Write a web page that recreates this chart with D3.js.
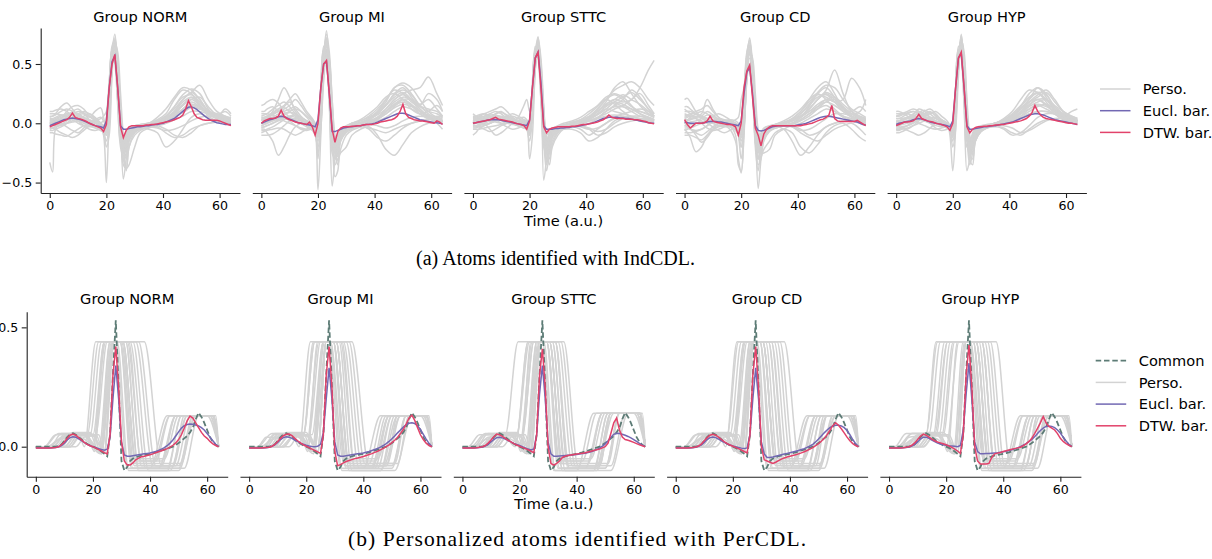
<!DOCTYPE html>
<html><head><meta charset="utf-8">
<script src="https://cdn.jsdelivr.net/npm/d3@7"></script>
<style>
body{margin:0;background:#fff}
svg text{fill:#000}
</style>
</head><body>
<svg id="chart" width="1212" height="559"></svg>
<script>
// ---------------- DATA ----------------
const groups = ["NORM","MI","STTC","CD","HYP"];
const time = Array.from({length:65},(_,i)=>i);
const xTicks = [0,20,40,60];
const yTicksTop = [-0.5,0.0,0.5];
const yTickLabelsTop = ["\u22120.5","0.0","0.5"];
const yTicksBot = [0.0,0.5];
const yTickLabelsBot = ["0.0","0.5"];
const xLabel = "Time (a.u.)";
const legendTop = ["Perso.","Eucl. bar.","DTW. bar."];
const legendBot = ["Common","Perso.","Eucl. bar.","DTW. bar."];
const captionA = "(a) Atoms identified with IndCDL.";
const captionB = "(b) Personalized atoms identified with PerCDL.";

// Top row (IndCDL): barycenters, one array per group (t = 0..64)
const topEucl = [
[-.02,-.01,.0,.01,.02,.03,.035,.04,.045,.04,.035,.03,.02,.01,.0,-.01,-.02,-.025,-.03,-.04,.02,.3,.52,.57,.3,-.02,-.05,-.05,-.045,-.04,-.035,-.03,-.03,-.025,-.02,-.02,-.015,-.01,-.01,-.005,.0,.01,.02,.03,.04,.06,.08,.1,.12,.135,.14,.13,.115,.095,.075,.055,.04,.025,.015,.005,.0,-.005,-.01,-.01,-.01],
[.0,.01,.02,.03,.035,.045,.055,.06,.055,.045,.035,.025,.015,.005,.0,-.005,-.01,-.015,-.02,-.03,.03,.3,.5,.52,.25,-.07,-.07,-.06,-.05,-.04,-.035,-.03,-.03,-.025,-.02,-.02,-.015,-.01,-.01,-.005,.0,.01,.02,.03,.04,.05,.06,.07,.08,.085,.085,.08,.07,.06,.05,.04,.03,.025,.02,.015,.01,.005,.005,.0,-.005],
[.0,.005,.01,.015,.02,.025,.03,.03,.03,.03,.025,.02,.015,.01,.005,.0,-.005,-.01,-.015,-.02,.03,.3,.55,.6,.35,-.02,-.05,-.05,-.05,-.045,-.045,-.04,-.04,-.035,-.035,-.03,-.03,-.025,-.02,-.015,-.01,-.005,.0,.01,.02,.03,.04,.045,.05,.05,.05,.05,.045,.045,.04,.04,.035,.03,.025,.02,.015,.01,.005,.0,.0],
[.01,.005,.0,.0,.0,.0,.0,.005,.01,.015,.015,.015,.01,.01,.005,.0,-.005,-.01,-.015,-.02,.02,.25,.43,.47,.25,-.02,-.06,-.065,-.06,-.05,-.04,-.03,-.025,-.02,-.02,-.02,-.02,-.02,-.02,-.02,-.015,-.01,-.005,.0,.01,.02,.03,.04,.05,.055,.06,.06,.055,.05,.045,.04,.035,.03,.025,.02,.015,.01,.0,-.01,-.015],
[-.01,.0,.005,.01,.015,.02,.03,.035,.04,.035,.03,.02,.01,.005,.0,-.005,-.01,-.015,-.02,-.03,.02,.3,.55,.59,.3,-.02,-.05,-.05,-.045,-.04,-.035,-.03,-.03,-.025,-.02,-.02,-.015,-.01,-.005,.0,.005,.01,.02,.03,.04,.05,.06,.07,.075,.08,.08,.075,.07,.06,.05,.04,.03,.025,.02,.015,.01,.005,.0,-.005,-.01]
];
const topDTW = [
[-.03,-.02,-.01,.0,.01,.02,.03,.05,.085,.05,.04,.035,.025,.015,.0,-.01,-.02,-.03,-.04,-.07,-.01,.3,.5,.58,.3,-.03,-.12,-.06,-.03,-.02,-.02,-.02,-.02,-.02,-.015,-.015,-.01,-.01,-.005,.0,.005,.01,.015,.02,.03,.04,.05,.07,.12,.19,.14,.08,.05,.04,.03,.025,.025,.025,.025,.025,.02,.01,.0,-.01,-.02],
[.0,.02,.03,.04,.04,.045,.06,.11,.06,.04,.03,.02,.01,.005,.0,-.005,-.01,.01,-.03,-.1,.0,.3,.5,.53,.25,-.05,-.16,-.07,-.04,-.03,-.03,-.03,-.025,-.025,-.02,-.02,-.015,-.01,-.01,-.01,-.005,.0,.01,.015,.02,.025,.03,.04,.06,.1,.16,.08,.05,.04,.03,.025,.02,.02,.015,.01,.005,.0,.02,.01,-.01],
[.0,.005,.01,.015,.02,.025,.03,.04,.05,.035,.03,.025,.02,.015,.01,.0,-.005,-.01,-.02,-.05,.02,.3,.55,.6,.3,-.03,-.08,-.05,-.04,-.035,-.03,-.03,-.03,-.03,-.03,-.025,-.025,-.02,-.015,-.01,-.01,-.005,.0,.005,.01,.02,.03,.045,.07,.05,.045,.04,.04,.04,.035,.035,.035,.03,.03,.025,.02,.015,.005,.0,-.005],
[.03,-.01,-.04,-.02,.0,.0,.0,.005,.02,.06,.02,.01,.005,.0,-.005,-.01,-.01,-.015,-.03,-.1,.0,.3,.44,.49,.22,-.04,-.1,-.19,-.09,-.05,-.03,-.02,-.02,-.02,-.02,-.02,-.02,-.02,-.02,-.02,-.02,-.02,-.015,-.01,-.005,.0,.01,.02,.03,.035,.05,.07,.15,.04,.02,.015,.015,.015,.015,.015,.015,.025,.01,-.005,-.02],
[-.02,-.01,.0,.01,.01,.015,.02,.04,.075,.04,.03,.02,.015,.01,.0,-.005,-.01,-.02,-.03,-.06,.0,.3,.55,.6,.3,-.03,-.08,-.05,-.035,-.03,-.03,-.025,-.025,-.02,-.02,-.015,-.015,-.01,-.01,-.005,.0,.005,.01,.015,.02,.03,.04,.06,.09,.15,.1,.07,.05,.04,.035,.03,.025,.02,.015,.01,.005,.0,.0,-.005,-.01]
];

// Top row personalized atoms, sampled at these times
const topGrayTime = [0,1,2,4,6,8,10,12,14,16,18,19,20,21,22,23,24,25,26,27,28,30,32,35,38,41,44,47,50,53,56,59,62,64];
const topGray = [
[ // NORM
[-.33,-.41,-.05,.02,.05,.07,.06,.04,.02,.0,-.03,-.04,.02,.35,.62,.55,.2,-.12,-.22,-.1,-.05,-.03,-.02,-.01,.01,.04,.09,.16,.2,.15,.06,.02,.01,.0],
[-.02,-.01,.0,.04,.1,.14,.15,.12,.06,.02,-.02,-.05,-.08,.15,.6,.75,.45,.0,-.3,-.25,-.1,-.05,-.03,-.02,.0,.05,.14,.24,.29,.25,.12,.05,.03,.02],
[.05,.06,.08,.14,.17,.12,.06,.02,.0,-.02,-.04,-.1,-.5,.1,.55,.65,.3,-.1,-.15,-.08,-.04,-.02,-.01,.0,.02,.06,.12,.2,.26,.32,.2,.1,.06,.04],
[-.03,-.04,-.05,-.08,-.1,-.12,-.1,-.06,-.02,.02,.0,-.02,.05,.3,.58,.62,.35,.0,-.47,-.3,-.12,-.06,-.04,-.05,-.08,-.2,-.15,-.05,.05,.08,.05,.02,.0,-.01],
[.02,.02,.03,.05,.06,.08,.1,.09,.05,.1,.13,.05,-.05,.2,.5,.68,.5,.1,-.35,-.38,-.2,-.1,-.06,-.03,.0,.03,.08,.15,.22,.18,.1,.06,.04,.03],
[-.05,-.04,-.03,-.02,.0,.02,.04,.06,.08,.05,.0,-.04,-.02,.25,.65,.7,.38,-.05,-.3,-.38,-.35,-.2,-.08,-.04,-.02,.0,.06,.12,.18,.14,.08,.05,.12,.08],
[.0,.01,.01,.03,.05,.1,.12,.08,.03,-.02,-.06,-.08,-.15,.0,.45,.72,.55,.15,-.2,-.4,-.2,-.08,-.05,-.03,-.02,-.05,-.1,-.12,-.08,-.02,.0,.01,.02,.02],
[.03,.03,.04,.06,.08,.08,.05,.02,-.01,-.03,-.05,-.06,-.03,.2,.55,.6,.3,-.05,-.2,-.15,-.08,-.04,-.02,.0,.03,.08,.2,.28,.25,.15,.08,.05,.03,.01],
[-.08,-.08,-.09,-.1,-.11,-.08,-.05,-.02,.0,.02,.04,.06,.1,.35,.6,.5,.15,-.2,-.28,-.12,-.06,-.03,-.02,-.01,-.03,-.08,-.12,-.1,-.05,-.02,.0,.02,.03,.02],
[.04,.04,.05,.07,.06,.04,.02,.0,-.02,-.04,-.06,-.08,-.2,-.1,.4,.68,.6,.25,-.1,-.25,-.15,-.07,-.04,-.02,.0,.02,.05,.1,.15,.12,.1,.08,.05,.04],
[-.01,.0,.01,.0,-.03,-.06,-.08,-.04,.0,.03,.05,.02,-.02,.25,.55,.58,.3,-.08,-.18,-.1,-.05,-.03,-.02,.0,.05,.12,.22,.3,.28,.2,.1,.04,.02,.0],
[.1,.1,.11,.12,.1,.06,.02,-.02,-.05,-.06,-.05,-.06,-.1,.1,.48,.7,.45,.05,-.25,-.2,-.1,-.05,-.03,-.02,-.01,.0,.03,.06,.1,.1,.08,.06,.04,.03],
[.0,.0,.01,.02,.03,.05,.06,.05,.03,.01,-.01,-.03,-.06,.2,.55,.66,.35,-.05,-.2,-.12,-.06,-.03,-.02,-.01,.01,.04,.1,.18,.22,.16,.08,.04,.02,.01],
[.06,.06,.07,.1,.12,.1,.07,.04,.02,.0,-.02,-.03,-.04,.22,.58,.62,.28,-.1,-.25,-.15,-.07,-.04,-.03,-.02,.0,.03,.08,.15,.2,.22,.14,.07,.04,.02],
[-.04,-.04,-.03,-.01,.02,.05,.08,.1,.08,.04,.0,-.03,-.08,.1,.5,.7,.45,.05,-.18,-.2,-.1,-.05,-.03,-.02,-.01,.02,.06,.12,.16,.14,.1,.08,.06,.04],
[.02,.02,.02,.03,.04,.04,.03,.01,-.01,-.03,-.05,-.07,-.1,.1,.52,.65,.42,.02,-.2,-.3,-.15,-.06,-.03,-.01,.02,.06,.14,.22,.24,.18,.1,.06,.05,.05],
[-.06,-.06,-.05,-.03,.0,.04,.07,.08,.06,.03,.0,-.02,-.04,.28,.62,.58,.25,-.12,-.22,-.12,-.06,-.04,-.03,-.03,-.04,-.06,-.05,-.02,.02,.05,.06,.05,.03,.02],
[.08,.08,.08,.07,.05,.03,.0,-.02,-.03,-.02,.0,.02,.0,.3,.6,.55,.2,-.15,-.18,-.08,-.04,-.02,-.01,.0,.02,.05,.1,.2,.26,.2,.1,.05,.03,.02],
[.0,.01,.02,.04,.07,.09,.08,.05,.02,.0,-.02,-.04,-.07,.15,.5,.63,.4,.0,-.25,-.22,-.12,-.06,-.03,-.02,.0,.02,.05,.09,.13,.12,.09,.07,.1,.06],
[-.02,-.02,-.02,-.01,.0,.01,.02,.02,.01,.0,-.01,-.02,-.03,.2,.52,.6,.32,-.02,-.15,-.1,-.05,-.03,-.02,-.01,.0,.03,.07,.12,.16,.13,.08,.04,.02,.01]
],
[ // MI
[.0,.02,.04,.1,.2,.3,.22,.1,.04,.0,-.03,-.06,-.3,.1,.55,.78,.5,.0,-.2,-.1,-.05,-.03,-.02,.0,.03,.08,.15,.25,.3,.22,.12,.06,.03,.02],
[-.05,-.05,-.08,-.15,-.27,-.2,-.1,-.03,.0,.02,.0,-.05,-.56,-.1,.5,.7,.3,-.2,-.25,-.15,-.08,-.04,-.02,-.01,.0,.02,.05,.1,.14,.12,.08,.04,.02,.0],
[.06,.07,.08,.12,.15,.18,.14,.08,.03,.0,-.02,-.04,-.05,.25,.62,.6,.2,-.53,-.3,-.1,-.05,-.02,.0,.02,.05,.1,.2,.28,.25,.18,.15,.25,.2,.1],
[-.02,-.01,.0,.03,.05,.08,.1,.12,.1,.06,.02,-.02,-.08,.15,.6,.72,.45,.05,-.35,-.3,-.25,-.2,-.1,-.05,-.03,-.1,-.22,-.27,-.18,-.08,-.03,.0,.02,.02],
[.1,.1,.12,.14,.1,.06,.02,-.02,-.05,-.06,-.05,-.08,-.15,.05,.45,.65,.55,.2,-.2,-.35,-.22,-.1,-.06,-.03,.0,.05,.12,.2,.25,.28,.3,.39,.25,.15],
[-.1,-.1,-.1,-.09,-.06,-.02,.02,.04,.03,.0,-.03,-.06,-.1,.1,.4,.6,.4,.0,-.45,-.4,-.15,-.08,-.05,-.02,.0,.04,.1,.16,.2,.15,.08,.04,.02,.01],
[.03,.04,.05,.07,.1,.12,.15,.2,.15,.08,.03,.0,-.05,.3,.65,.55,.15,-.25,-.3,-.15,-.08,-.05,-.03,-.02,-.05,-.12,-.15,-.1,-.04,.0,.02,.03,.03,.02],
[.0,.0,.01,.02,.04,.06,.05,.03,.0,-.03,-.06,-.1,-.2,.0,.5,.75,.6,.2,-.1,-.2,-.12,-.06,-.03,.0,.04,.1,.18,.3,.32,.25,.15,.08,.04,.02],
[-.04,-.03,-.02,.0,.02,.04,.06,.05,.02,.0,-.02,-.03,-.05,.2,.55,.68,.35,-.1,-.3,-.2,-.1,-.05,-.02,.0,.02,.05,.1,.15,.18,.15,.1,.05,.0,-.05],
[.15,.16,.18,.2,.17,.1,.05,.02,.0,-.02,-.03,-.04,-.1,.1,.48,.62,.5,.1,-.15,-.1,-.06,-.03,.0,.03,.08,.14,.22,.25,.2,.12,.08,.1,.15,.1],
[-.08,-.07,-.06,-.05,-.04,-.05,-.08,-.1,-.08,-.05,-.03,-.05,-.25,-.05,.35,.58,.45,.1,-.3,-.25,-.12,-.06,-.04,-.03,-.04,-.06,-.08,-.05,-.02,.0,.02,.04,.06,.05],
[.02,.03,.05,.08,.12,.15,.2,.25,.18,.1,.04,.0,-.04,.2,.6,.7,.4,.0,-.2,-.15,-.08,-.03,.0,.02,.06,.12,.2,.3,.34,.3,.2,.1,.05,.03],
[.04,.05,.06,.09,.12,.13,.1,.06,.03,.0,-.02,-.04,-.08,.15,.55,.68,.4,.0,-.2,-.15,-.08,-.04,-.02,.0,.03,.08,.15,.22,.26,.2,.1,.05,.03,.02],
[-.06,-.06,-.05,-.03,.0,.03,.06,.07,.05,.02,.0,-.03,-.1,.1,.5,.72,.5,.05,-.3,-.25,-.12,-.06,-.03,-.02,.0,.04,.1,.18,.22,.2,.12,.06,.03,.01],
[.0,.01,.02,.05,.08,.1,.12,.14,.1,.05,.0,-.02,-.06,.2,.58,.62,.3,-.1,-.25,-.12,-.06,-.03,-.01,.01,.04,.09,.16,.24,.28,.24,.15,.12,.1,.06],
[.08,.08,.08,.07,.05,.02,.0,-.02,-.04,-.05,-.04,-.05,-.12,.0,.42,.62,.52,.15,-.15,-.2,-.12,-.06,-.03,-.01,.01,.04,.08,.13,.16,.14,.1,.07,.05,.04],
[-.02,-.01,.0,.02,.04,.07,.09,.08,.05,.02,-.01,-.03,-.05,.25,.6,.58,.25,-.15,-.22,-.12,-.06,-.04,-.03,-.02,-.01,-.02,-.04,-.02,.02,.05,.06,.05,.03,.02],
[.03,.03,.04,.05,.05,.04,.03,.03,.02,.0,-.02,-.04,-.06,.18,.55,.66,.38,.0,-.18,-.14,-.08,-.04,-.02,.0,.03,.07,.12,.2,.24,.2,.14,.1,.08,.05],
[-.03,-.03,-.02,.0,.03,.05,.04,.02,.0,-.02,-.04,-.06,-.1,.12,.48,.7,.48,.05,-.22,-.28,-.15,-.07,-.04,-.02,.0,.03,.08,.14,.2,.2,.16,.2,.12,.06],
[.05,.05,.06,.08,.1,.14,.18,.12,.06,.02,.0,-.02,-.05,.22,.6,.64,.3,-.08,-.2,-.1,-.05,-.03,-.02,.0,.02,.05,.1,.16,.2,.16,.1,.06,.03,.02]
],
[ // STTC
[.0,.01,.02,.04,.05,.06,.05,.03,.02,.0,-.02,-.03,-.05,.2,.6,.65,.3,-.1,-.15,-.08,-.05,-.04,-.03,-.02,.0,.03,.08,.12,.1,.08,.06,.04,.03,.02],
[.08,.06,.04,.0,-.05,-.1,-.08,-.04,.0,.05,.15,.2,.1,.3,.6,.73,.4,-.1,-.3,-.2,-.1,-.06,-.04,-.02,.0,.05,.12,.2,.28,.32,.35,.3,.2,.15],
[-.1,-.08,-.05,-.02,.0,.02,.04,.06,.08,.06,.03,.0,-.3,-.1,.45,.68,.5,-.48,-.3,-.12,-.06,-.04,-.03,-.02,-.02,-.05,-.1,-.08,-.03,.0,.02,.03,.04,.03],
[.03,.03,.04,.06,.08,.1,.08,.04,.0,-.02,-.04,-.05,-.06,.1,.5,.6,.45,.1,-.2,-.25,-.12,-.06,-.04,-.02,.0,.04,.1,.16,.2,.18,.2,.3,.45,.53],
[-.03,-.03,-.02,-.01,.0,.02,.03,.02,.0,-.02,-.03,-.04,-.1,.15,.55,.7,.35,-.05,-.35,-.2,-.1,-.06,-.05,-.05,-.08,-.15,-.12,-.05,.02,.05,.05,.03,.02,.0],
[.05,.05,.06,.08,.1,.12,.14,.1,.05,.02,.0,-.02,-.04,.25,.62,.58,.2,-.2,-.25,-.1,-.05,-.02,.0,.02,.05,.1,.15,.22,.25,.22,.15,.08,.05,.03],
[-.05,-.05,-.05,-.04,-.03,-.02,-.01,.0,.01,.02,.03,.02,-.02,.2,.58,.66,.38,.0,-.2,-.3,-.18,-.08,-.04,-.02,.0,.02,.05,.08,.12,.15,.2,.25,.15,.08],
[.0,.0,.01,.02,.03,.04,.03,.02,.01,.0,-.01,-.02,-.03,.2,.55,.62,.3,-.05,-.1,-.06,-.04,-.03,-.02,-.01,.0,.02,.04,.06,.07,.06,.04,.03,.02,.01],
[.02,.03,.05,.08,.06,.03,.0,-.03,-.05,-.04,-.02,-.05,-.15,.05,.5,.72,.55,.15,-.15,-.2,-.1,-.06,-.04,-.02,.01,.05,.1,.18,.3,.35,.25,.15,.08,.05],
[-.02,-.02,-.03,-.05,-.07,-.05,-.02,.0,.02,.04,.05,.03,.0,.35,.65,.55,.2,-.15,-.4,-.25,-.12,-.06,-.04,-.03,-.05,-.1,-.05,.0,.05,.08,.1,.12,.1,.06],
[.06,.06,.07,.08,.06,.04,.02,.0,-.01,-.02,-.03,-.04,-.08,.1,.48,.64,.42,.05,-.22,-.15,-.08,-.04,-.02,.0,.03,.08,.14,.2,.16,.1,.05,.02,.01,.0],
[.0,.01,.01,.02,.04,.08,.1,.06,.02,.0,-.02,-.04,-.05,.15,.55,.65,.4,.0,-.25,-.35,-.2,-.1,-.05,-.03,-.02,.0,.04,.1,.15,.2,.28,.22,.12,.08],
[.02,.02,.03,.04,.05,.06,.06,.04,.02,.0,-.02,-.03,-.05,.18,.56,.66,.36,-.05,-.18,-.1,-.05,-.03,-.02,-.01,.01,.04,.08,.14,.18,.16,.12,.08,.05,.03],
[-.04,-.04,-.03,-.02,.0,.02,.04,.05,.04,.02,.0,-.02,-.06,.15,.52,.68,.42,.02,-.22,-.18,-.1,-.05,-.03,-.02,-.01,.02,.05,.1,.14,.14,.12,.1,.08,.05],
[.04,.04,.05,.06,.07,.07,.05,.03,.01,-.01,-.02,-.03,-.04,.22,.6,.6,.25,-.12,-.2,-.1,-.05,-.03,-.02,.0,.02,.05,.1,.16,.2,.24,.2,.16,.1,.06],
[.0,.0,.0,.01,.02,.03,.04,.04,.03,.02,.01,.0,-.02,.25,.6,.62,.28,-.08,-.15,-.08,-.04,-.03,-.02,-.02,-.03,-.05,-.04,.0,.04,.06,.05,.04,.03,.02],
[-.01,.0,.01,.03,.05,.08,.09,.07,.04,.01,-.01,-.03,-.08,.1,.5,.7,.48,.08,-.18,-.25,-.15,-.07,-.04,-.02,.0,.03,.07,.12,.18,.22,.26,.2,.12,.06],
[.03,.03,.03,.03,.02,.01,.0,.0,.01,.02,.02,.01,-.02,.2,.55,.64,.35,-.02,-.2,-.14,-.07,-.04,-.02,.0,.02,.05,.1,.15,.17,.14,.1,.06,.04,.02],
[-.02,-.02,-.01,.0,.02,.03,.03,.02,.0,-.02,-.04,-.05,-.1,.05,.45,.66,.5,.12,-.12,-.16,-.1,-.05,-.03,-.02,-.02,-.04,-.07,-.05,.0,.04,.06,.06,.05,.03],
[.01,.02,.03,.05,.06,.05,.04,.05,.06,.04,.01,-.01,-.04,.22,.58,.6,.3,-.06,-.2,-.12,-.06,-.03,-.01,.01,.03,.06,.12,.2,.24,.2,.14,.1,.07,.05]
],
[ // CD
[.2,.21,.18,.1,.05,.02,.0,-.02,-.03,-.03,-.05,-.1,-.2,.1,.5,.7,.4,-.1,-.3,-.15,-.06,-.03,-.02,.0,.04,.1,.2,.3,.35,.25,.12,.06,.03,.02],
[-.05,-.08,-.12,-.24,-.2,-.1,-.05,-.03,-.02,-.05,-.15,-.3,-.42,-.1,.4,.65,.35,-.15,-.3,-.2,-.1,-.05,-.03,-.02,.0,.03,.08,.12,.15,.1,.05,.02,.0,-.02],
[.08,.07,.06,.05,.08,.2,.12,.05,.02,.0,-.02,-.05,-.08,.2,.55,.72,.5,.0,-.55,-.3,-.12,-.06,-.04,-.02,.0,.05,.12,.2,.28,.45,.25,.1,.05,.03],
[-.02,-.02,-.01,.0,.01,.02,.03,.02,.0,-.02,-.05,-.08,-.12,.15,.45,.6,.4,.0,-.2,-.25,-.25,-.22,-.1,-.05,-.02,.0,.04,.08,.12,.1,.06,.04,.02,.0],
[.0,.02,.05,.08,.1,.08,.05,.02,.0,-.02,-.1,-.35,-.4,-.05,.35,.55,.45,.1,-.15,-.12,-.08,-.05,-.03,-.05,-.15,-.27,-.2,-.1,-.03,.0,.02,.03,.05,.04],
[-.1,-.1,-.1,-.12,-.14,-.1,-.06,-.02,.0,.02,.0,-.02,-.05,.25,.6,.68,.3,-.2,-.4,-.2,-.1,-.05,-.03,-.01,.02,.08,.16,.24,.22,.18,.2,.38,.29,.15],
[.04,.05,.06,.06,.05,.04,.03,.02,.01,.0,-.01,-.03,-.06,.1,.42,.5,.3,-.05,-.15,-.08,-.04,-.02,-.01,.0,.02,.06,.12,.2,.25,.2,.12,.06,.02,.0],
[.12,.1,.08,.04,.0,-.04,-.06,-.05,-.03,.0,.03,.05,.2,.3,.5,.62,.45,.0,-.35,-.3,-.15,-.07,-.04,-.02,-.03,-.08,-.12,-.15,-.1,-.05,-.02,.0,-.05,-.1],
[-.06,-.05,-.04,-.02,.0,.03,.06,.08,.06,.03,.0,-.04,-.1,.05,.45,.66,.52,.15,-.1,-.2,-.12,-.06,-.04,-.02,.0,.05,.14,.25,.3,.22,.12,.08,.1,.2],
[.02,.02,.03,.04,.02,.0,-.03,-.06,-.08,-.06,-.03,-.1,-.3,-.05,.38,.6,.55,.25,-.05,-.12,-.08,-.04,-.02,.0,.03,.06,.1,.14,.18,.15,.1,.05,.03,.02],
[.0,-.02,-.04,-.1,-.16,-.12,-.05,.0,.02,.03,.02,.0,-.03,.2,.52,.58,.3,-.15,-.3,-.28,-.22,-.15,-.08,-.05,-.08,-.2,-.25,-.18,-.08,-.02,.0,-.05,-.12,-.15],
[.05,.06,.07,.1,.12,.15,.1,.05,.02,.0,-.02,-.05,-.08,.18,.58,.7,.42,-.05,-.25,-.15,-.07,-.03,-.01,.02,.06,.12,.2,.25,.2,.12,.06,.03,.02,.01],
[.06,.07,.08,.08,.06,.04,.02,.0,-.01,-.02,-.03,-.05,-.1,.1,.48,.62,.4,.02,-.22,-.15,-.08,-.04,-.02,.0,.03,.08,.15,.22,.24,.18,.1,.06,.04,.03],
[-.04,-.04,-.05,-.06,-.05,-.02,.02,.04,.03,.01,-.02,-.06,-.15,.0,.42,.6,.45,.05,-.2,-.25,-.14,-.06,-.03,-.02,-.01,.02,.06,.12,.18,.2,.14,.08,.04,.02],
[.1,.1,.1,.08,.05,.02,.0,-.02,-.02,-.01,.0,-.02,-.06,.18,.52,.6,.32,-.1,-.25,-.12,-.06,-.03,-.01,.01,.04,.1,.18,.26,.32,.3,.2,.12,.08,.05],
[.0,.0,.01,.02,.04,.07,.06,.03,.0,-.03,-.06,-.1,-.2,-.02,.4,.64,.5,.12,-.15,-.18,-.1,-.05,-.03,-.02,-.02,-.05,-.1,-.08,-.03,.0,.02,.02,.01,.0],
[-.08,-.08,-.08,-.07,-.05,-.02,.01,.03,.03,.01,-.01,-.03,-.08,.12,.5,.66,.4,-.05,-.3,-.2,-.1,-.05,-.03,-.02,.0,.03,.08,.14,.2,.18,.12,.1,.14,.1],
[.03,.03,.04,.05,.06,.1,.07,.03,.0,-.02,-.04,-.07,-.12,.05,.45,.6,.45,.08,-.18,-.15,-.08,-.04,-.02,.0,.02,.05,.1,.16,.2,.22,.16,.1,.06,.04],
[-.02,-.03,-.05,-.08,-.1,-.07,-.03,.0,.02,.02,.0,-.03,-.08,.15,.52,.62,.38,-.08,-.22,-.14,-.07,-.04,-.03,-.02,-.03,-.06,-.05,-.01,.04,.08,.08,.06,.02,-.02],
[.14,.14,.12,.08,.04,.02,.01,.0,-.01,-.02,-.03,-.04,-.06,.2,.56,.62,.32,-.08,-.2,-.1,-.05,-.03,-.02,.0,.02,.06,.12,.2,.26,.22,.14,.08,.05,.03]
],
[ // HYP
[.0,.01,.02,.04,.06,.08,.06,.03,.01,.0,-.02,-.04,-.08,.2,.6,.7,.35,-.1,-.2,-.1,-.05,-.03,-.02,.0,.03,.08,.15,.22,.25,.18,.08,.03,.01,.0],
[-.05,-.05,-.04,-.02,.02,.06,.1,.12,.08,.03,.0,-.1,-.4,-.05,.5,.75,.45,-.05,-.25,-.15,-.08,-.04,-.02,.0,.02,.06,.12,.2,.3,.25,.12,.05,.02,.01],
[.06,.07,.08,.1,.12,.1,.06,.02,.0,-.02,-.04,-.05,-.04,.25,.62,.6,.2,-.4,-.3,-.12,-.06,-.03,-.02,-.01,.0,.03,.08,.14,.18,.2,.15,.1,.06,.04],
[-.03,-.03,-.04,-.06,-.08,-.1,-.08,-.04,.0,.02,.0,-.02,-.1,.1,.55,.68,.5,.1,-.15,-.25,-.15,-.06,-.03,-.02,-.05,-.1,-.08,-.02,.05,.08,.08,.06,.04,.02],
[.02,.02,.03,.05,.07,.12,.1,.05,.02,.0,-.03,-.06,-.15,.05,.45,.72,.55,.15,-.3,-.35,-.15,-.07,-.04,-.02,.0,.04,.1,.18,.24,.28,.2,.1,.05,.03],
[.1,.1,.09,.06,.03,.0,-.02,-.04,-.05,-.04,-.03,-.04,-.05,.3,.65,.55,.15,-.2,-.22,-.1,-.05,-.03,-.02,-.01,.0,.02,.05,.08,.1,.1,.08,.06,.1,.12],
[-.08,-.08,-.07,-.05,-.02,.02,.05,.04,.02,.0,-.02,-.03,-.05,.2,.58,.65,.35,-.05,-.3,-.2,-.1,-.05,-.03,-.02,.0,.05,.14,.25,.3,.22,.1,.04,.02,.01],
[.0,.0,.01,.02,.04,.05,.04,.02,.0,-.02,-.04,-.06,-.1,.15,.5,.7,.45,.0,-.15,-.1,-.06,-.04,-.02,.0,.02,.04,.06,.1,.14,.16,.12,.08,.05,.03],
[.04,.04,.05,.08,.1,.08,.04,.0,-.04,-.06,-.05,-.04,-.02,.25,.6,.62,.3,-.12,-.35,-.25,-.12,-.06,-.04,-.03,-.04,-.08,-.1,-.05,.0,.03,.03,.02,.01,.0],
[-.02,-.02,-.01,.0,.02,.04,.08,.1,.06,.02,-.02,-.06,-.2,-.05,.4,.7,.6,.2,-.1,-.18,-.1,-.05,-.03,-.01,.02,.06,.12,.18,.2,.15,.1,.06,.03,.02],
[.08,.08,.08,.08,.06,.04,.02,.0,-.02,-.03,-.03,-.04,-.06,.18,.55,.66,.4,.0,-.2,-.15,-.08,-.04,-.02,.0,.04,.1,.2,.28,.26,.2,.12,.06,.03,.02],
[-.04,-.04,-.03,-.02,.0,.03,.06,.08,.1,.06,.02,-.02,-.08,.12,.52,.74,.5,.05,-.28,-.3,-.15,-.07,-.04,-.02,.0,.03,.08,.12,.15,.12,.08,.04,.02,.0],
[.02,.02,.03,.04,.05,.06,.05,.03,.01,-.01,-.03,-.04,-.06,.2,.56,.66,.36,-.05,-.2,-.12,-.06,-.03,-.02,-.01,.01,.04,.09,.16,.2,.16,.08,.04,.02,.01],
[-.05,-.05,-.04,-.02,.01,.04,.07,.09,.07,.03,.0,-.03,-.1,.08,.5,.72,.5,.06,-.2,-.2,-.1,-.05,-.03,-.02,.0,.03,.08,.15,.2,.2,.14,.08,.04,.02],
[.06,.06,.07,.09,.1,.08,.05,.02,.0,-.02,-.03,-.04,-.05,.25,.6,.6,.25,-.12,-.25,-.14,-.07,-.04,-.02,.0,.02,.06,.12,.2,.26,.24,.14,.07,.04,.02],
[.0,.0,.01,.02,.03,.04,.05,.05,.04,.02,.0,-.02,-.05,.18,.55,.68,.4,.0,-.18,-.14,-.07,-.04,-.02,-.01,.0,.02,.04,.07,.1,.1,.08,.06,.04,.02],
[-.02,-.01,.0,.02,.05,.09,.11,.08,.04,.01,-.02,-.05,-.12,.05,.46,.7,.54,.12,-.15,-.22,-.12,-.06,-.03,-.02,-.02,-.04,-.08,-.06,-.02,.02,.04,.04,.03,.02],
[.04,.04,.04,.05,.05,.04,.02,.01,.0,.0,-.01,-.02,-.03,.28,.62,.56,.2,-.15,-.18,-.08,-.04,-.02,-.01,.0,.03,.07,.14,.22,.26,.2,.12,.06,.03,.02],
[-.06,-.06,-.05,-.04,-.02,.0,.02,.04,.05,.03,.0,-.02,-.06,.15,.52,.64,.38,-.02,-.24,-.18,-.09,-.05,-.03,-.02,.0,.02,.06,.12,.16,.14,.1,.08,.06,.04],
[.01,.02,.03,.05,.08,.1,.08,.05,.02,.0,-.02,-.03,-.07,.2,.58,.62,.3,-.08,-.22,-.12,-.06,-.03,-.02,.0,.02,.05,.1,.18,.22,.26,.18,.1,.05,.03]
]
];

// Bottom row (PerCDL)
const commonAtom = [0,0,0,0,0,0,0,0,.003,.01,.025,.04,.052,.056,.05,.04,.03,.02,.012,.005,.0,-.005,-.012,-.02,-.03,-.04,.05,.3,.53,.25,-.06,-.1,-.085,-.06,-.05,-.045,-.04,-.037,-.035,-.032,-.03,-.027,-.024,-.02,-.016,-.012,-.008,-.004,.0,.008,.015,.025,.035,.045,.06,.08,.115,.142,.125,.1,.07,.04,.02,.008,.0];
const botEucl = [
[-.005,-.005,-.005,-.005,-.005,-.005,-.004,-.003,.0,.005,.015,.028,.038,.042,.04,.033,.025,.017,.01,.004,.0,-.004,-.008,-.012,-.015,-.01,.04,.2,.34,.2,.02,-.035,-.04,-.04,-.038,-.036,-.034,-.032,-.03,-.028,-.026,-.023,-.02,-.016,-.01,-.004,.004,.015,.028,.045,.062,.078,.088,.093,.095,.094,.091,.087,.08,.07,.055,.04,.025,.01,.0],
[-.005,-.005,-.005,-.005,-.005,-.005,-.004,-.002,.002,.008,.018,.03,.038,.042,.04,.035,.028,.021,.015,.01,.006,.003,.001,.0,.002,.01,.06,.2,.33,.2,.02,-.035,-.04,-.04,-.038,-.036,-.034,-.032,-.03,-.028,-.026,-.023,-.02,-.016,-.012,-.007,-.002,.005,.013,.022,.033,.045,.058,.07,.082,.092,.098,.1,.097,.088,.072,.052,.032,.014,.0],
[-.005,-.005,-.005,-.005,-.005,-.004,-.003,-.001,.003,.01,.02,.03,.038,.04,.037,.032,.026,.02,.014,.009,.005,.0,-.005,-.01,-.014,-.01,.05,.22,.34,.2,.02,-.03,-.04,-.04,-.039,-.038,-.037,-.036,-.035,-.034,-.033,-.031,-.029,-.027,-.024,-.021,-.017,-.012,-.006,.002,.012,.025,.04,.052,.056,.055,.052,.048,.043,.037,.03,.022,.014,.007,.0],
[-.005,-.005,-.005,-.005,-.005,-.005,-.004,-.002,.002,.008,.018,.03,.038,.041,.038,.032,.025,.018,.012,.007,.003,.0,-.003,-.006,-.008,-.005,.05,.2,.33,.2,.02,-.03,-.045,-.045,-.043,-.04,-.037,-.034,-.031,-.028,-.025,-.022,-.019,-.016,-.012,-.008,-.003,.003,.01,.02,.032,.045,.058,.07,.08,.087,.09,.09,.087,.08,.068,.05,.03,.013,.0],
[-.005,-.005,-.005,-.005,-.005,-.004,-.003,-.001,.003,.01,.02,.032,.04,.04,.035,.028,.021,.015,.011,.008,.006,.004,.003,.002,.0,.005,.07,.22,.35,.2,.02,-.02,-.03,-.03,-.029,-.028,-.027,-.026,-.025,-.023,-.021,-.019,-.016,-.013,-.009,-.005,.0,.006,.013,.021,.03,.042,.055,.068,.078,.085,.087,.085,.08,.07,.057,.04,.024,.01,.0]
];
const botDTW = [
[-.005,-.005,-.005,-.005,-.005,-.005,-.004,-.003,.0,.008,.02,.035,.048,.053,.048,.038,.028,.018,.01,.004,.0,-.006,-.012,-.018,-.025,-.03,.05,.3,.42,.25,.02,-.06,-.077,-.077,-.068,-.055,-.048,-.042,-.04,-.037,-.034,-.03,-.025,-.021,-.017,-.013,-.008,-.002,.006,.016,.03,.05,.078,.108,.128,.12,.1,.08,.06,.045,.035,.022,.012,.005,.0],
[-.005,-.005,-.005,-.005,-.005,-.004,-.003,-.002,.002,.01,.022,.035,.046,.052,.053,.046,.035,.025,.016,.008,.002,-.004,-.01,-.016,-.022,-.028,.05,.3,.42,.25,-.02,-.08,-.075,-.068,-.062,-.058,-.054,-.05,-.047,-.044,-.041,-.037,-.033,-.029,-.024,-.019,-.013,-.007,.0,.008,.017,.027,.04,.055,.072,.095,.12,.132,.11,.08,.05,.03,.015,.005,.0],
[-.005,-.005,-.005,-.005,-.005,-.004,-.002,.0,.005,.015,.028,.042,.053,.05,.043,.035,.027,.02,.013,.007,.002,-.003,-.008,-.013,-.019,-.025,.05,.3,.41,.25,.0,-.07,-.077,-.07,-.06,-.045,-.04,-.037,-.035,-.033,-.031,-.029,-.027,-.025,-.022,-.019,-.016,-.013,-.01,-.005,.0,.015,.056,.1,.12,.07,.04,.03,.027,.023,.018,.013,.008,.004,.0],
[-.005,-.005,-.005,-.005,-.005,-.004,-.003,-.001,.003,.012,.025,.038,.048,.052,.048,.04,.03,.021,.013,.007,.002,-.003,-.008,-.014,-.02,-.026,.05,.3,.42,.25,.0,-.055,-.06,-.065,-.07,-.065,-.058,-.052,-.047,-.043,-.04,-.037,-.034,-.03,-.026,-.021,-.016,-.01,-.004,.004,.013,.023,.035,.05,.068,.088,.1,.09,.075,.058,.04,.025,.013,.005,.0],
[-.005,-.005,-.005,-.005,-.005,-.004,-.002,.0,.006,.016,.03,.044,.053,.048,.04,.032,.025,.02,.016,.012,.008,.003,-.003,-.01,-.018,-.028,.05,.3,.426,.25,.0,-.06,-.073,-.073,-.072,-.07,-.045,-.03,-.027,-.024,-.02,-.017,-.014,-.011,-.008,-.005,-.002,.004,.012,.022,.035,.055,.077,.1,.126,.1,.085,.078,.07,.055,.035,.022,.013,.006,.0]
];
// Bottom row personalized atoms: [time, value] key points
const botGray = [
[ // NORM
[[0,0],[3,0],[7,.05],[18,.05],[20,-.01],[24,.44],[30,.44],[34.5,-.08],[44,-.08],[49,.13],[62,.13],[64,0]],
[[0,0],[8,0],[12,.055],[19,.055],[22,-.02],[26,.44],[31.5,.44],[36,-.09],[46,-.09],[51,.13],[62,.13],[64,0]],
[[0,0],[10,0],[14,.05],[20,.05],[24,.44],[35,.44],[41,-.08],[48,-.08],[53,.13],[62,.13],[64,0]],
[[0,0],[6,0],[10,.045],[17,.05],[23,-.03],[27,.44],[28.5,.44],[32.5,-.1],[50,-.1],[56,.13],[62,.13],[64,0]],
[[0,0],[5,0],[9,.055],[15,.055],[17,0],[21,.44],[38,.44],[44,-.08],[49,-.08],[54,.13],[62,.13],[64,0]],
[[0,0],[12,0],[15.5,.05],[20,.05],[23,-.03],[26.5,.44],[30.5,.44],[35,-.06],[42,-.06],[47,.13],[60,.13],[64,0]],
[[0,0],[9,0],[13,.06],[19,.06],[23,0],[27,.44],[31.5,.44],[36,-.1],[47,-.1],[53,.13],[62.5,.13],[64,0]],
[[0,0],[7,0],[11,.05],[17,.05],[20,0],[24.5,.44],[33,.44],[38.5,-.09],[50,-.09],[55,.13],[62,.13],[64,0]],
[[0,0],[11,0],[15,.05],[22,.05],[24,-.02],[27.5,.44],[29.5,.44],[34,-.07],[41,-.07],[47,.13],[61,.13],[64,0]],
[[0,0],[14,0],[17,.04],[21,.05],[25,.44],[36,.44],[42,-.08],[50,-.08],[56,.13],[62,.13],[64,0]],
[[0,0],[4,0],[8,.03],[15,.04],[24,-.02],[27,.44],[29.5,.44],[33.5,-.09],[52,-.09],[57,.13],[62,.13],[64,0]],
[[0,0],[9,0],[13,.055],[18,.055],[20.5,-.02],[24,.44],[32,.44],[37,-.06],[44,-.06],[49,.13],[62,.13],[64,0]],
[[0,0],[6,0],[10,.05],[18,.05],[22,.44],[30.5,.44],[35,-.05],[45,-.05],[50,.13],[62,.13],[64,0]],
[[0,0],[3,0],[8,.055],[16,.055],[22.5,-.03],[26,.44],[28,.44],[32,-.09],[40,-.09],[46,.13],[61,.13],[64,0]],
[[0,0],[10,0],[14,.045],[20,.045],[24,-.02],[27,.44],[32.5,.44],[37,-.08],[48,-.08],[52,.13],[63,.13],[64,0]],
[[0,0],[8,0],[12,.05],[19,.05],[23,.44],[34,.44],[39.5,-.1],[46,-.1],[51,.13],[62,.13],[64,0]],
[[0,0],[5,0],[9,.04],[17,.05],[23,-.02],[26,.44],[29.5,.44],[34,-.09],[43,-.09],[49,.13],[62,.13],[64,0]],
[[0,0],[12,0],[16,.05],[21,.05],[24,-.03],[27,.44],[30.5,.44],[35,-.07],[51,-.07],[55,.13],[62,.13],[64,0]]
],
[ // MI
[[0,0],[5,0],[9,.05],[18,.05],[22,-.02],[26,.44],[30.5,.44],[35,-.09],[45,-.09],[50,.13],[62,.13],[64,0]],
[[0,0],[3,0],[6,.04],[10,.04],[13,.055],[19,.055],[22,-.02],[26.5,.44],[34,.44],[39.5,-.08],[48,-.08],[53,.13],[62,.13],[64,0]],
[[0,0],[10,0],[14,.05],[19,.05],[23,.44],[36,.44],[42,-.08],[50,-.08],[55,.13],[62,.13],[64,0]],
[[0,0],[8,0],[12,.05],[17,.05],[24,-.03],[27,.44],[28.5,.44],[32.5,-.1],[51,-.1],[57,.13],[62,.13],[64,0]],
[[0,0],[5,0],[9,.055],[15,.055],[17.5,0],[21.5,.44],[32,.44],[37,-.09],[44,-.09],[49,.13],[62,.13],[64,0]],
[[0,0],[12,0],[16,.05],[21,.05],[24,-.02],[27,.44],[30.5,.44],[35,-.07],[42,-.07],[47,.13],[60,.13],[64,0]],
[[0,0],[9,0],[13,.06],[20,.06],[23,0],[27,.44],[31.5,.44],[36,-.1],[46,-.1],[52,.13],[62.5,.13],[64,0]],
[[0,0],[7,0],[11,.05],[17,.05],[20,0],[24.5,.44],[33,.44],[38.5,-.09],[50,-.09],[55,.13],[62,.13],[64,0]],
[[0,0],[14,0],[17.5,.05],[22,.05],[26,.44],[29.5,.44],[34,-.08],[43,-.08],[48,.13],[61,.13],[64,0]],
[[0,0],[11,0],[15,.04],[21,.05],[25,.44],[35,.44],[40.5,-.07],[52,-.07],[56,.13],[62,.13],[64,0]],
[[0,0],[4,0],[8,.03],[16,.045],[24,-.02],[27,.44],[29.5,.44],[33.5,-.08],[47,-.08],[53,.13],[62,.13],[64,0]],
[[0,0],[9,0],[13,.055],[18,.055],[20.5,-.02],[24,.44],[28.5,.44],[33,-.06],[44,-.06],[49,.13],[62,.13],[64,0]],
[[0,0],[6,0],[10,.05],[19,.05],[22.5,.44],[29.5,.44],[34,-.05],[45,-.05],[50,.13],[62,.13],[64,0]],
[[0,0],[3,0],[8,.055],[16,.055],[22.5,-.03],[26,.44],[28,.44],[32,-.09],[40,-.09],[46,.13],[61,.13],[64,0]],
[[0,0],[10,0],[14,.045],[20,.045],[24,-.02],[27,.44],[32.5,.44],[37,-.08],[48,-.08],[52,.13],[63,.13],[64,0]],
[[0,0],[8,0],[12,.05],[19,.05],[23,.44],[30.5,.44],[35,-.1],[46,-.1],[51,.13],[62,.13],[64,0]],
[[0,0],[5,0],[9,.04],[17,.05],[23,-.02],[26,.44],[29.5,.44],[34,-.09],[43,-.09],[49,.13],[62,.13],[64,0]],
[[0,0],[12,0],[16,.05],[21,.05],[24,-.03],[27,.44],[30.5,.44],[35,-.07],[51,-.07],[55,.13],[62,.13],[64,0]]
],
[ // STTC
[[0,0],[4,0],[8,.05],[15,.05],[19.5,.44],[30.5,.44],[35,-.09],[46,-.09],[51,.14],[61,.14],[64,0]],
[[0,0],[8,0],[12,.055],[19,.055],[22,-.02],[26,.44],[32.5,.44],[37,-.09],[47,-.09],[52,.14],[62,.14],[64,0]],
[[0,0],[10,0],[14,.05],[21,.05],[25,.44],[33.5,.44],[38.5,-.08],[48,-.08],[52,.14],[62,.14],[64,0]],
[[0,0],[6,0],[10,.04],[16,.05],[23.5,-.03],[27,.44],[28.5,.44],[32.5,-.1],[52,-.1],[58,.14],[62,.14],[64,0]],
[[0,0],[5,0],[9,.055],[14,.055],[18.5,0],[23,.44],[35.5,.44],[40.5,-.08],[47,-.08],[52,.14],[62,.14],[64,0]],
[[0,0],[12,0],[16,.05],[20,.05],[23,-.03],[26.5,.44],[30.5,.44],[35,-.06],[42,-.06],[47,.14],[60,.14],[64,0]],
[[0,0],[9,0],[13,.06],[19,.06],[23,0],[27,.44],[31.5,.44],[36,-.1],[47,-.1],[53,.14],[62.5,.14],[64,0]],
[[0,0],[7,0],[11,.05],[17,.05],[20,0],[24.5,.44],[32.5,.44],[37.5,-.09],[50,-.09],[55,.14],[62,.14],[64,0]],
[[0,0],[11,0],[15,.05],[22,.05],[24,-.02],[27.5,.44],[29.5,.44],[34,-.07],[44,-.07],[49,.14],[61,.14],[64,0]],
[[0,0],[14,0],[17,.04],[21,.05],[25,.44],[34.5,.44],[39.5,-.08],[52,-.08],[57,.14],[62,.14],[64,0]],
[[0,0],[4,0],[8,.03],[15,.04],[24,-.02],[27,.44],[29.5,.44],[33.5,-.09],[50,-.09],[55,.14],[62,.14],[64,0]],
[[0,0],[9,0],[13,.055],[18,.055],[20.5,-.02],[24,.44],[31.5,.44],[36,-.06],[44,-.06],[49,.14],[62,.14],[64,0]],
[[0,0],[2,0],[6,.05],[19,.05],[23,.44],[29.5,.44],[34,-.05],[45,-.05],[50,.14],[62,.14],[64,0]],
[[0,0],[3,0],[8,.055],[16,.055],[22.5,-.03],[26,.44],[28,.44],[32,-.1],[40,-.1],[46,.14],[61,.14],[64,0]],
[[0,0],[10,0],[14,.045],[20,.045],[24,-.02],[27,.44],[32.5,.44],[37,-.08],[48,-.08],[52,.14],[63,.14],[64,0]],
[[0,0],[8,0],[12,.05],[19,.05],[23.5,.44],[30.5,.44],[35,-.1],[46,-.1],[51,.14],[62,.14],[64,0]],
[[0,0],[5,0],[9,.04],[17,.05],[23,-.02],[26,.44],[29.5,.44],[34,-.09],[43,-.09],[49,.14],[62,.14],[64,0]],
[[0,0],[12,0],[16,.05],[21,.05],[24,-.03],[27,.44],[30.5,.44],[35,-.07],[51,-.07],[55,.14],[62,.14],[64,0]]
],
[ // CD
[[0,0],[3,0],[7,.05],[18,.05],[20,-.01],[24,.44],[30.5,.44],[35,-.08],[44,-.08],[49,.13],[62,.13],[64,0]],
[[0,0],[8,0],[12,.055],[19,.055],[22,-.02],[26,.44],[33.5,.44],[38,-.09],[46,-.09],[51,.13],[62,.13],[64,0]],
[[0,0],[10,0],[14,.05],[20,.05],[24,.44],[38,.44],[43.5,-.08],[49,-.08],[53,.13],[62,.13],[64,0]],
[[0,0],[6,0],[10,.045],[17,.05],[23,-.03],[27,.44],[28.5,.44],[32.5,-.1],[50,-.1],[56,.13],[62,.13],[64,0]],
[[0,0],[5,0],[9,.055],[15,.055],[17.5,0],[21.5,.44],[35.5,.44],[40.5,-.08],[48,-.08],[53,.13],[62,.13],[64,0]],
[[0,0],[12,0],[16,.05],[20,.05],[23,-.03],[26.5,.44],[30.5,.44],[35,-.06],[42,-.06],[47,.13],[60,.13],[64,0]],
[[0,0],[9,0],[13,.06],[19,.06],[23,0],[27,.44],[31.5,.44],[36,-.1],[47,-.1],[53,.13],[62.5,.13],[64,0]],
[[0,0],[7,0],[11,.05],[17,.05],[20,0],[24.5,.44],[33.5,.44],[38.5,-.09],[50,-.09],[55,.13],[62,.13],[64,0]],
[[0,0],[11,0],[15,.05],[22,.05],[24,-.02],[27.5,.44],[29.5,.44],[34,-.07],[41,-.07],[47,.13],[61,.13],[64,0]],
[[0,0],[14,0],[17,.04],[21,.05],[25,.44],[36.5,.44],[41.5,-.08],[50,-.08],[56,.13],[62,.13],[64,0]],
[[0,0],[4,0],[8,.03],[15,.04],[24,-.02],[27,.44],[29.5,.44],[33.5,-.09],[52,-.09],[57,.13],[62,.13],[64,0]],
[[0,0],[9,0],[13,.055],[18,.055],[20.5,-.02],[24,.44],[32.5,.44],[37,-.06],[44,-.06],[49,.13],[62,.13],[64,0]],
[[0,0],[6,0],[10,.05],[18,.05],[22,.44],[30.5,.44],[35,-.05],[45,-.05],[50,.13],[62,.13],[64,0]],
[[0,0],[3,0],[8,.055],[16,.055],[22.5,-.03],[26,.44],[28,.44],[32,-.09],[40,-.09],[46,.13],[61,.13],[64,0]],
[[0,0],[10,0],[14,.045],[20,.045],[24,-.02],[27,.44],[32.5,.44],[37,-.08],[48,-.08],[52,.13],[63,.13],[64,0]],
[[0,0],[8,0],[12,.05],[19,.05],[23,.44],[34.5,.44],[39.5,-.1],[46,-.1],[51,.13],[62,.13],[64,0]],
[[0,0],[5,0],[9,.04],[17,.05],[23,-.02],[26,.44],[29.5,.44],[34,-.09],[43,-.09],[49,.13],[62,.13],[64,0]],
[[0,0],[12,0],[16,.05],[21,.05],[24,-.03],[27,.44],[30.5,.44],[35,-.07],[51,-.07],[55,.13],[62,.13],[64,0]]
],
[ // HYP
[[0,0],[2,0],[6,.055],[16,.055],[20.5,.44],[30.5,.44],[35,-.08],[44,-.08],[49,.13],[62,.13],[64,0]],
[[0,0],[8,0],[12,.055],[14,.055],[18,.44],[32.5,.44],[37,-.09],[46,-.09],[51,.13],[62,.13],[64,0]],
[[0,0],[10,0],[14,.05],[19,.05],[23,.44],[35.5,.44],[40.5,-.08],[48,-.08],[52,.13],[62,.13],[64,0]],
[[0,0],[6,0],[10,.045],[17,.05],[23,-.03],[27,.44],[28.5,.44],[32.5,-.1],[50,-.1],[56,.13],[62,.13],[64,0]],
[[0,0],[4,0],[8,.055],[13,.055],[17,.44],[37.5,.44],[42.5,-.08],[49,-.08],[54,.13],[62,.13],[64,0]],
[[0,0],[12,0],[16,.05],[20,.05],[23,-.03],[26.5,.44],[30.5,.44],[35,-.06],[42,-.06],[47,.13],[60,.13],[64,0]],
[[0,0],[9,0],[13,.06],[19,.06],[23,0],[27,.44],[31.5,.44],[36,-.1],[47,-.1],[53,.13],[62.5,.13],[64,0]],
[[0,0],[7,0],[11,.05],[17,.05],[20,0],[24.5,.44],[33.5,.44],[38.5,-.09],[50,-.09],[55,.13],[62,.13],[64,0]],
[[0,0],[11,0],[15,.05],[18.5,.05],[22.5,.44],[29.5,.44],[34,-.07],[41,-.07],[47,.13],[61,.13],[64,0]],
[[0,0],[3,0],[7,.04],[16.5,.05],[20.5,.44],[34.5,.44],[39.5,-.08],[50,-.08],[56,.13],[62,.13],[64,0]],
[[0,0],[4,0],[8,.03],[15,.04],[24,-.02],[27,.44],[29.5,.44],[33.5,-.09],[52,-.09],[57,.13],[62,.13],[64,0]],
[[0,0],[9,0],[13,.055],[18,.055],[20.5,-.02],[24,.44],[32.5,.44],[37,-.06],[44,-.06],[49,.13],[62,.13],[64,0]],
[[0,0],[6,0],[10,.05],[15.5,.05],[19.5,.44],[28.5,.44],[33,-.05],[45,-.05],[50,.13],[62,.13],[64,0]],
[[0,0],[3,0],[8,.055],[16,.055],[22.5,-.03],[26,.44],[28,.44],[32,-.09],[40,-.09],[46,.13],[61,.13],[64,0]],
[[0,0],[10,0],[14,.045],[20,.045],[24,-.02],[27,.44],[32.5,.44],[37,-.08],[48,-.08],[52,.13],[63,.13],[64,0]],
[[0,0],[8,0],[12,.05],[17.5,.05],[21.5,.44],[30.5,.44],[35,-.1],[46,-.1],[51,.13],[62,.13],[64,0]],
[[0,0],[5,0],[9,.04],[13,.05],[16.5,.44],[29.5,.44],[34,-.09],[43,-.09],[49,.13],[62,.13],[64,0]],
[[0,0],[12,0],[16,.05],[21,.05],[24,-.03],[27,.44],[30.5,.44],[35,-.07],[51,-.07],[55,.13],[62,.13],[64,0]]
]
];

// ---------------- STYLE / LAYOUT ----------------
const C_GRAY = "#d3d3d3", C_EUCL = "#7268b3", C_DTW = "#e2426a", C_COMMON = "#5d7c76";
const SANS = "'DejaVu Sans', sans-serif";
const svg = d3.select("#chart");
const xDomain = [-3.2, 67.2];
const rows = [
  {left:40.7, step:211.6, w:199.3, top:28, bottom:193, yDom:[-0.588,0.8035], yTicks:yTicksTop, yLabels:yTickLabelsTop, titleY:21.7, kind:"top"},
  {left:26.7, step:213.3, w:201, top:311.7, bottom:476.7, yDom:[-0.1257,0.5656], yTicks:yTicksBot, yLabels:yTickLabelsBot, titleY:304.3, kind:"bot"}
];

function styleAxis(g){
  g.selectAll("path.domain").attr("stroke","#222").attr("stroke-width",1.1);
  g.selectAll(".tick line").attr("stroke","#222").attr("stroke-width",1.1);
  g.selectAll(".tick text").style("font-size","12.6px").style("font-family",SANS).attr("fill","#000");
}

rows.forEach((row) => {
  groups.forEach((gname, gi) => {
    const x0 = row.left + gi*row.step;
    const x = d3.scaleLinear().domain(xDomain).range([x0, x0 + row.w]);
    const y = d3.scaleLinear().domain(row.yDom).range([row.bottom, row.top]);
    const g = svg.append("g");
    const line = d3.line().x((d,i)=>x(time[i])).y(d=>y(d));

    if (row.kind === "top") {
      const gl = d3.line().x((d,i)=>x(topGrayTime[i])).y(d=>y(d)).curve(d3.curveCatmullRom.alpha(0.5));
      topGray[gi].forEach(s => g.append("path").attr("d", gl(s)).attr("fill","none")
        .attr("stroke",C_GRAY).attr("stroke-width",1.5));
      g.append("path").attr("d", line(topEucl[gi])).attr("fill","none").attr("stroke",C_EUCL).attr("stroke-width",1.5);
      g.append("path").attr("d", line(topDTW[gi])).attr("fill","none").attr("stroke",C_DTW).attr("stroke-width",1.5);
    } else {
      const gl = d3.line().x(d=>x(d[0])).y(d=>y(d[1])).curve(d3.curveMonotoneX);
      botGray[gi].forEach(s => g.append("path").attr("d", gl(s)).attr("fill","none")
        .attr("stroke",C_GRAY).attr("stroke-width",1.5));
      g.append("path").attr("d", line(commonAtom)).attr("fill","none").attr("stroke",C_COMMON)
        .attr("stroke-width",1.8).attr("stroke-dasharray","5.5,2.8");
      g.append("path").attr("d", line(botEucl[gi])).attr("fill","none").attr("stroke",C_EUCL).attr("stroke-width",1.5);
      g.append("path").attr("d", line(botDTW[gi])).attr("fill","none").attr("stroke",C_DTW).attr("stroke-width",1.5);
    }

    const xa = svg.append("g").attr("transform",`translate(0,${row.bottom})`)
      .call(d3.axisBottom(x).tickValues(xTicks).tickFormat(d3.format("d")).tickSize(5).tickSizeOuter(0).tickPadding(3.5));
    styleAxis(xa);
    if (gi === 0) {
      const ya = svg.append("g").attr("transform",`translate(${x0},0)`)
        .call(d3.axisLeft(y).tickValues(row.yTicks).tickFormat((d,i)=>row.yLabels[i]).tickSize(5).tickSizeOuter(0).tickPadding(3.5));
      styleAxis(ya);
    }
    svg.append("text").attr("x", x0 + row.w/2).attr("y", row.titleY).attr("text-anchor","middle")
      .style("font-family",SANS).style("font-size","14.6px").text("Group " + gname);
    if (gi === 2) {
      svg.append("text").attr("x", x0 + row.w/2).attr("y", row.bottom + 32.5).attr("text-anchor","middle")
        .style("font-family",SANS).style("font-size","14.6px").text(xLabel);
    }
  });
});

// Legends
function legend(items, colors, dashes, lx, ly, tx){
  items.forEach((name,i)=>{
    const yy = ly + i*21.7;
    svg.append("line").attr("x1",lx).attr("x2",lx+30.5).attr("y1",yy).attr("y2",yy)
      .attr("stroke",colors[i]).attr("stroke-width",dashes[i]?1.8:1.5).attr("stroke-dasharray",dashes[i]||null);
    svg.append("text").attr("x",tx).attr("y",yy+5.3).style("font-family",SANS).style("font-size","14.6px").text(name);
  });
}
legend(legendTop,[C_GRAY,C_EUCL,C_DTW],[null,null,null],1100,89,1142.7);
legend(legendBot,[C_COMMON,C_GRAY,C_EUCL,C_DTW],["5.5,2.8",null,null,null],1095.7,360.7,1138.7);

// Captions
const SERIF = "'Liberation Serif', 'DejaVu Serif', serif";
svg.append("text").attr("x",416).attr("y",264.5).style("font-family",SERIF).style("font-size","20px")
  .attr("textLength",279).attr("lengthAdjust","spacing").text(captionA);
svg.append("text").attr("x",348).attr("y",545.5).style("font-family",SERIF).style("font-size","21.5px")
  .attr("textLength",458).attr("lengthAdjust","spacing").text(captionB);
</script>
</body></html>
